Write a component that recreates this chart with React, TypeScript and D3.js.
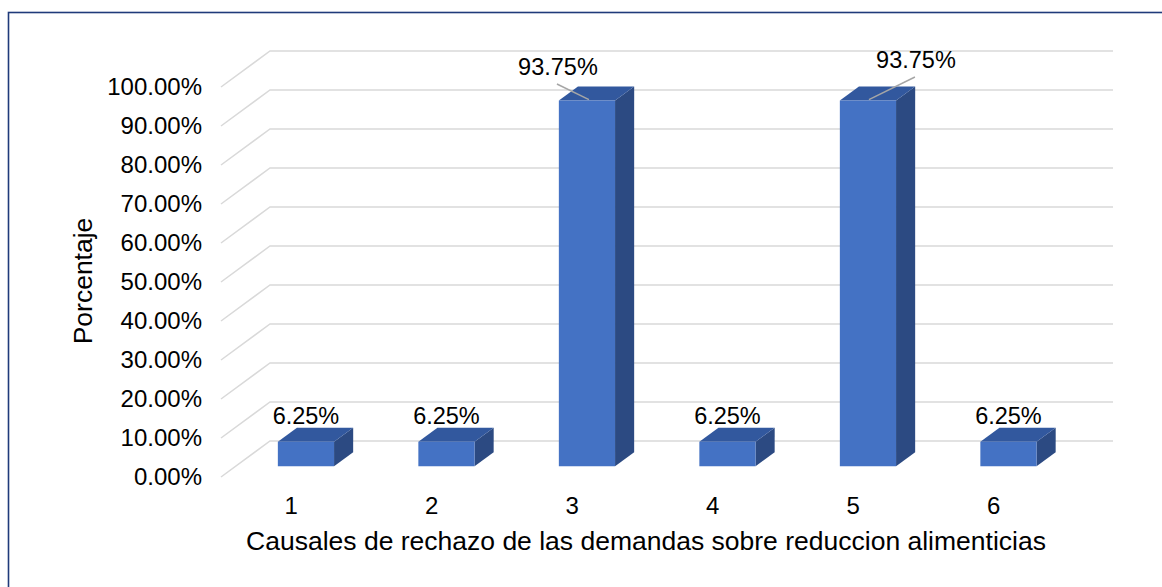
import { useMemo } from "react";
import * as d3 from "d3";

const categories = ["1", "2", "3", "4", "5", "6"];
const values = [0.0625, 0.0625, 0.9375, 0.0625, 0.9375, 0.0625];
const valueLabels = ["6.25%", "6.25%", "93.75%", "6.25%", "93.75%", "6.25%"];
const yTicks = [0, 0.1, 0.2, 0.3, 0.4, 0.5, 0.6, 0.7, 0.8, 0.9, 1.0];

const xTitle = "Causales de rechazo de las demandas sobre reduccion alimenticias";
const yTitle = "Porcentaje";

const W = 1162;
const H = 587;
const FONT = "Arial, 'Liberation Sans', sans-serif";

export default function App() {
  // front plane of the 3d chart
  const left = 221;
  const right = 1064;
  const base = 477;
  const plotH = 390;
  // depth vector of the wall
  const dx = 49;
  const dy = -36;

  const x = useMemo(
    () => d3.scaleBand<string>().domain(categories).range([left, right]),
    []
  );
  const y = useMemo(
    () => d3.scaleLinear().domain([0, 1]).range([0, plotH]),
    []
  );

  const fmt = d3.format(".2%");
  const step = x.step();
  const barW = step * 0.4;
  const d0 = 0.3; // bar front depth
  const d1 = 0.69; // bar back depth
  const bdx = (d1 - d0) * dx;
  const bdy = (d1 - d0) * dy;

  // hand-placed labels for tall bars (with leader lines), offsets from bar centre
  const labelPos: Record<number, { tx: number; ty: number; x1: number; y1: number; x2: number }> = {
    2: { tx: -29, ty: 75, x1: -30, y1: 84, x2: 2 },
    4: { tx: 48, ty: 68, x1: 47, y1: 77, x2: 1 },
  };

  return (
    <svg
      width={W}
      height={H}
      style={{ position: "absolute", left: 0, top: 0, background: "#fff" }}
      fontFamily={FONT}
    >
      <rect x={8.5} y={12.5} width={1160} height={600} fill="#fff" stroke="#1f3a7a" strokeWidth={1.6} />

      {/* gridlines: left wall diagonal + back wall horizontal */}
      {yTicks.map((t) => {
        const fy = base - y(t);
        return (
          <g key={t}>
            <polyline
              points={`${left},${fy} ${left + dx},${fy + dy} ${right + dx},${fy + dy}`}
              fill="none"
              stroke="#d9d9d9"
              strokeWidth={1.5}
            />
            <text
              x={202}
              y={fy}
              dy="0.35em"
              textAnchor="end"
              fontSize={24}
              fill="#000"
            >
              {fmt(t)}
            </text>
          </g>
        );
      })}

      {/* bars */}
      {values.map((v, i) => {
        const cx = (x(categories[i]) ?? 0) + step / 2 + d0 * dx;
        const bx0 = cx - barW / 2;
        const bx1 = cx + barW / 2;
        const by0 = base + d0 * dy;
        const by1 = by0 - y(v);
        const front = `M${bx0},${by0}L${bx1},${by0}L${bx1},${by1}L${bx0},${by1}Z`;
        const top = `M${bx0},${by1}L${bx1},${by1}L${bx1 + bdx},${by1 + bdy}L${bx0 + bdx},${by1 + bdy}Z`;
        const side = `M${bx1},${by0}L${bx1 + bdx},${by0 + bdy}L${bx1 + bdx},${by1 + bdy}L${bx1},${by1}Z`;
        const lp = labelPos[i];
        return (
          <g key={i}>
            <path d={side} fill="#2c4a82" />
            <path d={top} fill="#32589e" />
            <path d={front} fill="#4472c4" />
            {lp ? (
              <g>
                <line
                  x1={cx + lp.x1}
                  y1={lp.y1}
                  x2={cx + lp.x2}
                  y2={by1 - 1}
                  stroke="#a6a6a6"
                  strokeWidth={1.5}
                />
                <text x={cx + lp.tx} y={lp.ty} textAnchor="middle" fontSize={23.5}>
                  {valueLabels[i]}
                </text>
              </g>
            ) : (
              <text x={cx} y={by1 + bdy - 4} textAnchor="middle" fontSize={23.5}>
                {valueLabels[i]}
              </text>
            )}
            <text
              x={(x(categories[i]) ?? 0) + step / 2}
              y={514}
              textAnchor="middle"
              fontSize={24}
            >
              {categories[i]}
            </text>
          </g>
        );
      })}

      <text x={646} y={550} textAnchor="middle" fontSize={26.5}>
        {xTitle}
      </text>
      <text
        transform={`translate(92,281) rotate(-90)`}
        textAnchor="middle"
        fontSize={26.5}
      >
        {yTitle}
      </text>
    </svg>
  );
}
